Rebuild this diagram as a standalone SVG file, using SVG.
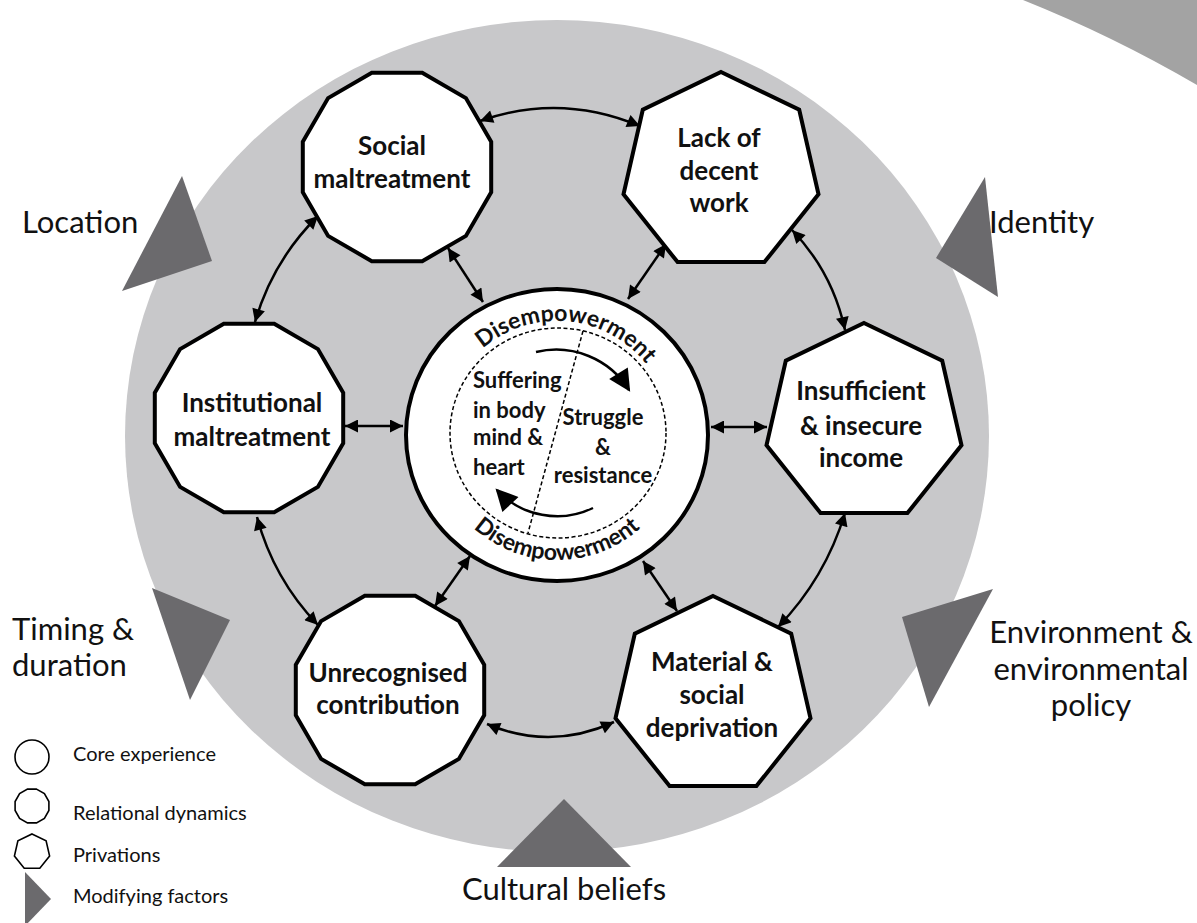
<svg xmlns="http://www.w3.org/2000/svg" xmlns:xlink="http://www.w3.org/1999/xlink" width="1197" height="923" viewBox="0 0 1197 923">
<style>
.node{fill:#fff;stroke:#000;stroke-width:4;stroke-linejoin:miter}
.lbl{font-family:Lato,"Liberation Sans",sans-serif;font-weight:bold;font-size:26px;fill:#111;text-anchor:middle}
.ctr{font-family:Lato,"Liberation Sans",sans-serif;font-weight:bold;font-size:22px;fill:#111}
.dis{font-family:Lato,"Liberation Sans",sans-serif;font-weight:bold;font-size:23px;fill:#111}
.out{font-family:Lato,"Liberation Sans",sans-serif;font-size:31px;fill:#111}
.leg{font-family:Lato,"Liberation Sans",sans-serif;font-size:20px;fill:#111}
.mod{fill:#6b6a6d}
.conn{fill:none;stroke:#000;stroke-width:2.5;marker-start:url(#ah);marker-end:url(#ah)}
.legshape{fill:#fff;stroke:#000;stroke-width:1.6}
</style>
<defs>
<marker id="ah" viewBox="0 0 10 10" refX="10" refY="5" markerWidth="15" markerHeight="13" markerUnits="userSpaceOnUse" orient="auto-start-reverse">
<path d="M0,0 L10,5 L0,10 z" fill="#000"/>
</marker>
<marker id="big" viewBox="0 0 10 10" refX="9" refY="5" markerWidth="23" markerHeight="22" markerUnits="userSpaceOnUse" orient="auto">
<path d="M0,0 L10,5 L0,10 z" fill="#000"/>
</marker>
<polygon id="dodeca" points="25.2,-94.2 68.9,-68.9 94.2,-25.2 94.2,25.2 68.9,68.9 25.2,94.2 -25.2,94.2 -68.9,68.9 -94.2,25.2 -94.2,-25.2 -68.9,-68.9 -25.2,-94.2"/>
<polygon id="hepta" points="0,-100 78.2,-62.3 97.5,22.3 43.4,90.1 -43.4,90.1 -97.5,22.3 -78.2,-62.3"/>
<path id="arcTop" d="M443,435 A114,114 0 0 1 671,435"/>
<path id="arcBot" d="M432,435 A125,125 0 0 0 682,435"/>
</defs>

<g id="background">
<path d="M1023,0 A1317,1317 0 0 1 1197,85 L1197,0 Z" fill="#a3a3a3"/>
<ellipse cx="557" cy="436" rx="432" ry="416" fill="#c8c8ca"/>
</g>

<g id="modifying-factors">
<polygon class="mod" points="182,176 212,261 122,291"/>
<polygon class="mod" points="985,177 936,258 998,297"/>
<polygon class="mod" points="152,588 230,620 190,700"/>
<polygon class="mod" points="902,617 993,589 929,707"/>
<polygon class="mod" points="564,799 497,867 631,867"/>
<text class="out" x="22" y="233">Location</text>
<text class="out" x="989" y="233">Identity</text>
<text class="out" x="12" y="640">Timing &amp;</text>
<text class="out" x="12" y="676">duration</text>
<text class="out" x="1091" y="643" text-anchor="middle">Environment &amp;</text>
<text class="out" x="1091" y="680" text-anchor="middle">environmental</text>
<text class="out" x="1091" y="716" text-anchor="middle">policy</text>
<text class="out" x="564" y="900" text-anchor="middle">Cultural beliefs</text>
</g>

<g id="connectors">
<path class="conn" d="M480,121 Q560,92.5 640,126"/>
<path class="conn" d="M792,230 Q832.7,272.5 845,330"/>
<path class="conn" d="M845,513 Q825.3,578.1 778,627"/>
<path class="conn" d="M614,722 Q550.5,751 487,724"/>
<path class="conn" d="M318,625 Q273.6,578.9 257,517"/>
<path class="conn" d="M255,322 Q272.7,260.8 318,216"/>
<path class="conn" d="M448,248 L483,302"/>
<path class="conn" d="M666,244 L628,299"/>
<path class="conn" d="M767,427 L711,427"/>
<path class="conn" d="M677,611 L643,561"/>
<path class="conn" d="M435,606 L470,556"/>
<path class="conn" d="M345,426 L403,426"/>
</g>

<g id="core">
<ellipse cx="557" cy="435" rx="151" ry="146" fill="#fff" stroke="#000" stroke-width="4"/>
<ellipse cx="558" cy="433" rx="108" ry="105" fill="none" stroke="#000" stroke-width="1.5" stroke-dasharray="4 2.5"/>
<line x1="583" y1="331" x2="528" y2="533" stroke="#000" stroke-width="1.5" stroke-dasharray="4 2.5"/>
<path d="M536,352 A86,86 0 0 1 629,390" fill="none" stroke="#000" stroke-width="2.5" marker-end="url(#big)"/>
<path d="M593,508 A82,82 0 0 1 497,490" fill="none" stroke="#000" stroke-width="2.5" marker-end="url(#big)"/>
<text class="dis"><textPath href="#arcTop" startOffset="53%" text-anchor="middle">Disempowerment</textPath></text>
<text class="dis"><textPath href="#arcBot" startOffset="50%" text-anchor="middle">Disempowerment</textPath></text>
<text class="ctr" x="473" y="388">Suffering</text>
<text class="ctr" x="473" y="418">in body</text>
<text class="ctr" x="473" y="445">mind &amp;</text>
<text class="ctr" x="473" y="475">heart</text>
<text class="ctr" x="603" y="425" text-anchor="middle">Struggle</text>
<text class="ctr" x="603" y="455" text-anchor="middle">&amp;</text>
<text class="ctr" x="603" y="483" text-anchor="middle">resistance</text>
</g>

<g id="social-maltreatment">
<use href="#dodeca" class="node" x="397" y="167"/>
<text class="lbl" x="392" y="155">Social</text>
<text class="lbl" x="392" y="188">maltreatment</text>
</g>
<g id="lack-of-decent-work">
<use href="#hepta" class="node" x="721" y="172"/>
<text class="lbl" x="719" y="147">Lack of</text>
<text class="lbl" x="719" y="180">decent</text>
<text class="lbl" x="719" y="212">work</text>
</g>
<g id="insufficient-income">
<use href="#hepta" class="node" x="864" y="423"/>
<text class="lbl" x="861" y="400">Insufficient</text>
<text class="lbl" x="861" y="435">&amp; insecure</text>
<text class="lbl" x="861" y="467">income</text>
</g>
<g id="material-social-deprivation">
<use href="#hepta" class="node" x="713" y="696"/>
<text class="lbl" x="712" y="671">Material &amp;</text>
<text class="lbl" x="712" y="704">social</text>
<text class="lbl" x="712" y="737">deprivation</text>
</g>
<g id="unrecognised-contribution">
<use href="#dodeca" class="node" x="390" y="690"/>
<text class="lbl" x="388" y="682">Unrecognised</text>
<text class="lbl" x="388" y="714">contribution</text>
</g>
<g id="institutional-maltreatment">
<use href="#dodeca" class="node" x="249" y="418"/>
<text class="lbl" x="252" y="412">Institutional</text>
<text class="lbl" x="252" y="446">maltreatment</text>
</g>

<g id="legend">
<circle class="legshape" cx="32" cy="757" r="17"/>
<polygon class="legshape" points="36.5,789.1 44.4,793.6 48.9,801.5 48.9,810.5 44.4,818.4 36.5,822.9 27.5,822.9 19.6,818.4 15.1,810.5 15.1,801.5 19.6,793.6 27.5,789.1"/>
<polygon class="legshape" points="32,834 46.1,840.8 49.6,856 39.8,868.2 24.2,868.2 14.4,856 17.9,840.8"/>
<polygon class="mod" points="25,872 51,899 25,926"/>
<text class="leg" x="73" y="761">Core experience</text>
<text class="leg" x="73" y="820">Relational dynamics</text>
<text class="leg" x="73" y="862">Privations</text>
<text class="leg" x="73" y="903">Modifying factors</text>
</g>
</svg>
